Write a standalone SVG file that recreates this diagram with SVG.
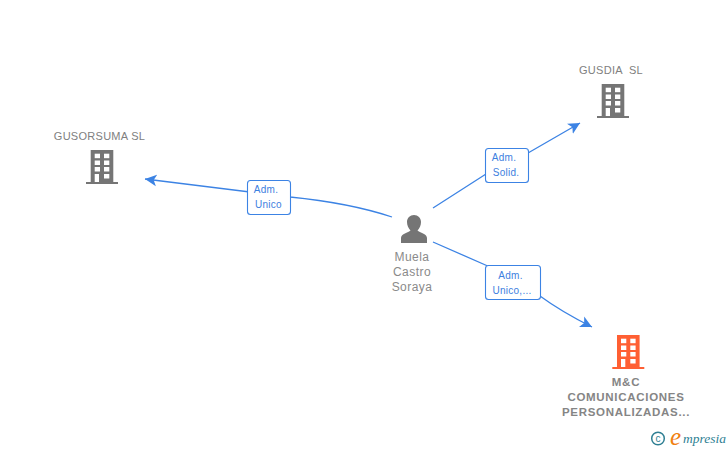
<svg xmlns="http://www.w3.org/2000/svg" width="728" height="450" viewBox="0 0 728 450">
<style>
text{font-family:"Liberation Sans",Arial,sans-serif;white-space:pre}
.n{font-size:11px;fill:#808080;text-anchor:middle;letter-spacing:.28px}
.p{font-size:12px;fill:#8a8a8a;text-anchor:middle;letter-spacing:.45px}
.b{font-size:11.5px;font-weight:bold;fill:#858585;text-anchor:middle;letter-spacing:.7px}
.l{font-size:10px;fill:#3d80e0;text-anchor:middle;letter-spacing:.25px}
.c{fill:none;stroke:#3c83e4;stroke-width:1.3}
.box{fill:#fff;stroke:#3c83e4;stroke-width:1.1}
.w{fill:#fff}
</style>
<defs>
<marker id="a" markerUnits="userSpaceOnUse" markerWidth="14" markerHeight="14" refX="10" refY="5" orient="auto" viewBox="0 0 12 10"><path d="M0 0L10 5L0 10L2.500 5Z" fill="#3c83e4"/></marker>
<g id="bld"><path d="M-11.300 -17h22.600v32h4.700v2h-32v-2h4.700z"/><g class="w"><rect x="-7.300" y="-13.300" width="5.300" height="4.500"/><rect x="2" y="-13.300" width="5.300" height="4.500"/><rect x="-7.300" y="-6.500" width="5.300" height="4.500"/><rect x="2" y="-6.500" width="5.300" height="4.500"/><rect x="-7.300" y="0" width="5.300" height="4.500"/><rect x="2" y="0" width="5.300" height="4.500"/><rect x="-7.300" y="7" width="4.300" height="8"/><rect x="2" y="7" width="5.300" height="4.500"/></g></g>
</defs>
<rect width="728" height="450" fill="#fff"/>
<g id="connectors">
<path class="c" marker-end="url(#a)" d="M392 217C350 203 310 199 290 197L145 179"/>
<path class="c" marker-end="url(#a)" d="M433 208L486 174M528 153L580 123"/>
<path class="c" marker-end="url(#a)" d="M433 242L490 267M540 296C555 307 570 316 592 327"/>
</g>
<g id="edge-unico"><rect class="box" x="247.500" y="180.500" width="43" height="34" rx="3"/><text class="l" x="266" y="193">Adm.</text><text class="l" x="268.500" y="208">Unico</text></g>
<g id="edge-solid"><rect class="box" x="485.500" y="148.500" width="43" height="34" rx="3"/><text class="l" x="504" y="161">Adm.</text><text class="l" x="506" y="176">Solid.</text></g>
<g id="edge-unico2"><rect class="box" x="485.500" y="265.500" width="55" height="34" rx="3"/><text class="l" x="510.500" y="279">Adm.</text><text class="l" x="512" y="294">Unico,...</text></g>
<g id="node-gusorsuma"><text class="n" x="99.500" y="140">GUSORSUMA SL</text><use href="#bld" x="102" y="167" fill="#757575"/></g>
<g id="node-gusdia"><text class="n" x="611" y="74">GUSDIA  SL</text><use href="#bld" x="613" y="101" fill="#757575"/></g>
<g id="node-muela"><path fill="#757575" d="M401 243v-5c0-4 6-5 9.500-7.500c-2-2-3.500-5-3.500-8.500c0-4 3-7 7-7s7 3 7 7c0 3.500-1.500 6.500-3.500 8.500c3.500 2.500 9.500 3.500 9.500 7.500v5z"/><text class="p" x="412" y="261">Muela</text><text class="p" x="412" y="276">Castro</text><text class="p" x="412" y="291">Soraya</text></g>
<g id="node-mc"><use href="#bld" x="628.300" y="352" fill="#ff5f33"/><text class="b" x="626" y="386">M&amp;C</text><text class="b" x="626" y="401">COMUNICACIONES</text><text class="b" x="626" y="416">PERSONALIZADAS...</text></g>
<g id="logo"><circle cx="658" cy="438.500" r="6.300" fill="none" stroke="#2f7f93" stroke-width="1.500"/><text x="658" y="442" font-size="10" fill="#2f7f93" text-anchor="middle">c</text><text x="670" y="445" font-size="25" fill="#f08010" style="font-family:'Liberation Serif',serif;font-style:italic">e</text><text x="683" y="443" font-size="13.500" fill="#2f7f93" style="font-family:'Liberation Serif',serif;font-style:italic">mpresia</text></g>
</svg>
